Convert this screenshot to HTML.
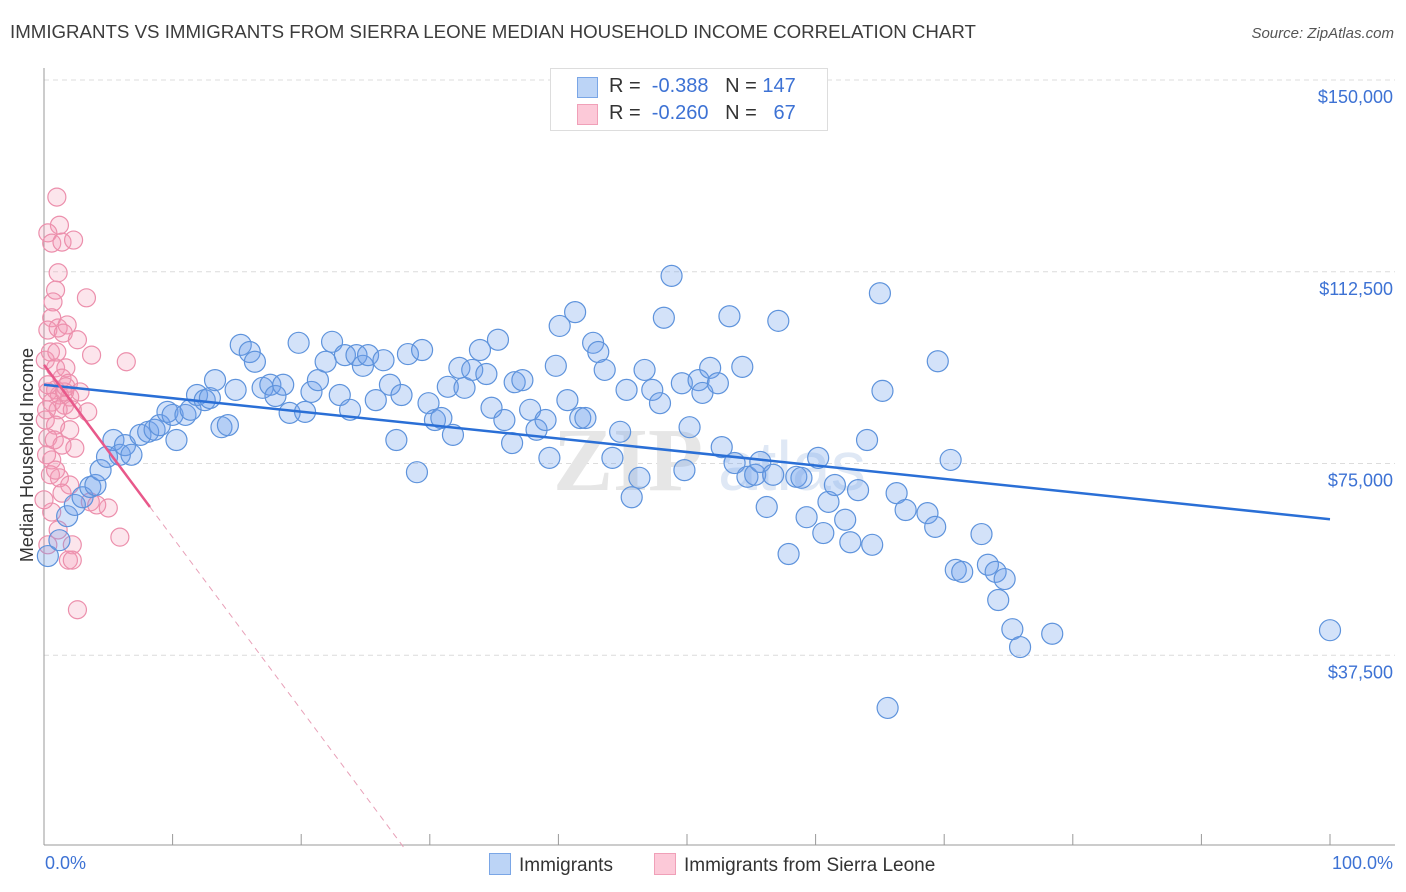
<!DOCTYPE html>
<html><head><meta charset="utf-8"><style>
body{margin:0;background:#fff;font-family:"Liberation Sans",sans-serif;}
#wrap{position:relative;width:1406px;height:892px;overflow:hidden;}
.t{position:absolute;white-space:nowrap;}
</style></head><body>
<div id="wrap">
<div class="t" style="left:10px;top:21px;font-size:18.7px;color:#3c3c3c;">IMMIGRANTS VS IMMIGRANTS FROM SIERRA LEONE MEDIAN HOUSEHOLD INCOME CORRELATION CHART</div>
<div class="t" style="right:12px;top:25px;font-size:15px;color:#555;font-style:italic;">Source: ZipAtlas.com</div>
<svg id="svg" width="1406" height="892" style="position:absolute;left:0;top:0"></svg>
</div>
<script>
const blueX=[0.3,1.2,1.8,2.4,3.0,3.6,4.0,4.4,4.9,5.4,5.9,6.3,6.8,7.5,8.1,8.6,9.0,9.6,10.0,10.3,11.0,11.4,11.9,12.5,12.9,13.3,13.8,14.3,14.9,15.3,16.0,16.4,17.0,17.6,18.0,18.6,19.1,19.8,20.3,20.8,21.3,21.9,22.4,23.0,23.4,23.8,24.3,24.8,25.2,25.8,26.4,26.9,27.4,27.8,28.3,29.0,29.4,29.9,30.4,30.9,31.4,31.8,32.3,32.7,33.3,33.9,34.4,34.8,35.3,35.8,36.4,36.6,37.2,37.8,38.3,39.0,39.3,39.8,40.1,40.7,41.3,41.7,42.1,42.7,43.1,43.6,44.2,44.8,45.3,45.7,46.3,46.7,47.3,47.9,48.2,48.8,49.6,49.8,50.2,50.9,51.2,51.8,52.4,52.7,53.3,53.7,54.3,54.7,55.3,55.7,56.2,56.7,57.1,57.9,58.5,58.9,59.3,60.2,60.6,61.0,61.5,62.3,62.7,63.3,64.0,64.4,65.0,65.2,65.6,66.3,67.0,68.7,69.3,69.5,70.5,70.9,71.4,72.9,73.4,74.0,74.2,74.7,75.3,75.9,78.4,100];
const blueY=[56.9,60.0,64.7,66.9,68.4,70.4,70.8,73.7,76.3,79.6,76.7,78.6,76.7,80.6,81.2,81.6,82.5,85.1,84.5,79.6,84.5,85.5,88.4,87.4,87.8,91.3,82.1,82.5,89.4,98.2,96.8,94.9,89.8,90.4,88.2,90.4,84.9,98.6,85.1,89.0,91.3,94.9,98.8,88.4,96.2,85.5,96.2,94.1,96.2,87.4,95.2,90.4,79.6,88.4,96.4,73.3,97.2,86.8,83.5,83.9,90.0,80.6,93.7,89.8,93.3,97.2,92.5,85.9,99.2,83.5,79.0,90.9,91.3,85.5,81.6,83.5,76.1,94.1,101.9,87.4,104.6,83.9,83.9,98.6,96.8,93.3,76.1,81.2,89.4,68.4,72.2,93.3,89.4,86.8,103.5,111.7,90.7,73.7,82.1,91.3,88.8,93.7,90.7,78.2,103.8,75.1,93.9,72.4,72.8,75.3,66.5,72.8,102.9,57.3,72.4,72.2,64.5,76.1,61.4,67.5,70.8,64.0,59.6,69.8,79.6,59.1,108.3,89.2,27.2,69.2,65.9,65.3,62.6,95.0,75.7,54.2,53.8,61.2,55.2,53.8,48.3,52.4,42.6,39.1,41.7,42.4];
const pinkX=[1.0,1.2,0.3,0.6,1.4,2.3,1.1,0.9,3.3,0.7,0.6,0.3,1.1,1.8,1.5,2.6,3.7,6.4,0.5,0.1,0.9,1.7,1.4,1.9,0.9,0.3,1.2,2.0,0.6,1.6,1.1,3.4,2.2,0.1,0.9,0.3,0.8,1.4,2.4,0.2,0.6,1.2,2.0,1.4,3.6,5.0,4.1,0.3,2.2,5.9,1.9,2.2,2.6,0.2,0.5,0.9,0.3,1.6,1.0,1.7,0.6,1.1,0.0,2.0,2.8];
const pinkY=[127.1,121.6,120.1,118.1,118.3,118.7,112.3,108.9,107.4,106.6,103.5,101.1,101.5,102.1,100.5,99.2,96.2,94.9,96.8,95.2,93.7,93.7,91.7,90.7,89.4,89.0,88.4,88.0,87.0,86.4,85.5,85.1,85.5,83.5,82.5,80.0,79.6,78.6,78.0,76.7,75.7,72.2,70.8,69.2,67.5,66.3,66.9,59.1,59.1,60.6,56.1,56.1,46.4,85.5,72.8,73.7,90.4,89.0,96.8,90.0,65.5,62.0,67.9,81.6,89.0];
const blueTrend=[90.4,64.1];
const pinkTrend=[94.3,66.5,8.24];
const yTickVals=[150000,112500,75000,37500];
const yTickLabels=["$150,000","$112,500","$75,000","$37,500"];
const xLabels=["0.0%","100.0%"];

const NS="http://www.w3.org/2000/svg",svg=document.getElementById('svg');
const X=p=>44+p*12.86, Y=k=>80+(150-k)*767/150;
function mk(t,a,p){const e=document.createElementNS(NS,t);for(const k in a)e.setAttribute(k,a[k]);(p||svg).appendChild(e);return e;}
yTickVals.forEach((v,i)=>{const y=Y(v/1000);
 const g=mk('line',{x1:44,x2:1395,y1:y,y2:y,stroke:'#dcdcdc','stroke-dasharray':'5,4'});
 
 
 const t=mk('text',{x:1393,y:y+23,'text-anchor':'end','font-size':18,fill:'#3d72d4'});t.textContent=yTickLabels[i];
 
 
});
const wm=mk('text',{x:553,y:490,'font-size':90,fill:'#e6e6e6','font-family':'Liberation Serif','font-weight':'bold'});wm.textContent='ZIP';


const wm2=mk('text',{x:718,y:490,'font-size':70,fill:'#dfe8f5'});wm2.textContent='atlas';


const ax=mk('line',{x1:44,x2:44,y1:68,y2:845,stroke:'#999'});


const bx=mk('line',{x1:44,x2:1395,y1:845,y2:845,stroke:'#999'});


for(let i=0;i<=10;i++){const tk=mk('line',{x1:X(i*10),x2:X(i*10),y1:834,y2:845,stroke:'#999'});
 
 }
[[X(0)+1,'start'],[1393,'end']].forEach((d,i)=>{const t=mk('text',{x:d[0],y:869,'text-anchor':d[1],'font-size':18,fill:'#3d72d4'});t.textContent=xLabels[i];
 
 });
const yt=mk('text',{x:33,y:455,'text-anchor':'middle','font-size':18,fill:'#333',transform:'rotate(-90 33 455)'});yt.textContent='Median Household Income';


pinkX.forEach((x,i)=>{const c=mk('circle',{cx:X(x),cy:Y(pinkY[i]),r:9,fill:'rgba(242,150,180,0.25)',stroke:'#ec8fac','stroke-width':1.2});
 
 });
blueX.forEach((x,i)=>{const c=mk('circle',{cx:X(x),cy:Y(blueY[i]),r:10.5,fill:'rgba(110,160,235,0.3)',stroke:'#5e93dc','stroke-width':1.2});
 
 });
const bl=mk('line',{x1:X(0),y1:Y(blueTrend[0]),x2:X(100),y2:Y(blueTrend[1]),stroke:'#2a6fd6','stroke-width':2.5});


const slope=(pinkTrend[1]-pinkTrend[0])/pinkTrend[2], zx=-pinkTrend[0]/slope;
const pl=mk('line',{x1:X(0),y1:Y(pinkTrend[0]),x2:X(pinkTrend[2]),y2:Y(pinkTrend[1]),stroke:'#e8588a','stroke-width':2.5});


const pd=mk('line',{x1:X(pinkTrend[2]),y1:Y(pinkTrend[1]),x2:X(zx),y2:Y(0),stroke:'#e8a0b8','stroke-width':1,'stroke-dasharray':'6,5'});


</script>
<div class="t" style="left:550px;top:68px;width:276px;height:61px;border:1px solid #ddd;background:#fff;font-size:20px;">
 <div style="position:absolute;left:26px;top:8px;width:19px;height:19px;background:#bcd4f6;border:1px solid #7aa6e6;"></div>
 <div style="position:absolute;left:58px;top:6px;color:#333;">R = <span style="color:#3d72d4">&nbsp;-0.388</span>&nbsp;&nbsp;&nbsp;N = <span style="color:#3d72d4">147</span></div>
 <div style="position:absolute;left:26px;top:35px;width:19px;height:19px;background:#fcc9d8;border:1px solid #f0a0b8;"></div>
 <div style="position:absolute;left:58px;top:33px;color:#333;">R = <span style="color:#3d72d4">&nbsp;-0.260</span>&nbsp;&nbsp;&nbsp;N = <span style="color:#3d72d4">&nbsp;&nbsp;67</span></div>
</div>
<div class="t" style="left:489px;top:853px;font-size:19px;color:#333;">
 <span style="display:inline-block;width:20px;height:20px;background:#bcd4f6;border:1px solid #7aa6e6;vertical-align:-4px;margin-right:8px;"></span>Immigrants</div>
<div class="t" style="left:654px;top:853px;font-size:19px;color:#333;">
 <span style="display:inline-block;width:20px;height:20px;background:#fcc9d8;border:1px solid #f0a0b8;vertical-align:-4px;margin-right:8px;"></span>Immigrants from Sierra Leone</div>
</body></html>
